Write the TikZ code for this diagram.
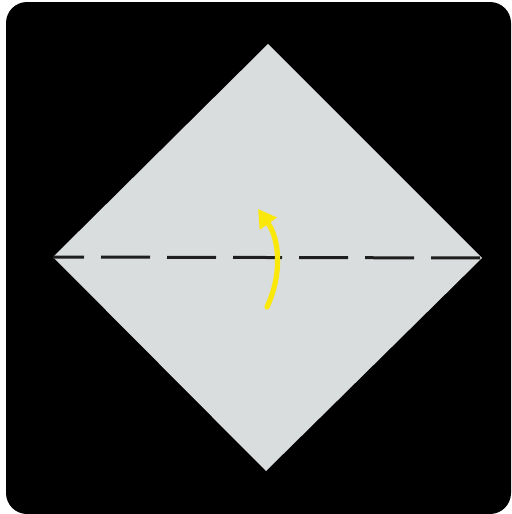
\documentclass[tikz,border=0pt]{standalone}
\usetikzlibrary{arrows.meta}

\definecolor{paper}{RGB}{218,221,221}
\definecolor{foldarrow}{RGB}{250,232,10}
\definecolor{creaseline}{RGB}{30,30,30}

\begin{document}
\begin{tikzpicture}[
    x=0.5pt, y=-0.5pt,
    frame/.style={fill=black, rounded corners=10.5pt},
    sheet/.style={fill=paper},
    crease/.style={draw=creaseline, line width=1.5pt, dash pattern=on 24.5pt off 8.5pt, dash phase=9pt},
    fold/.style={draw=foldarrow, line width=2.6pt, line cap=round, -{Triangle[length=9pt, width=10pt]}}
]
\useasboundingbox (0,0) rectangle (512,514);

\fill[frame] (6,2) rectangle (511,514);

\coordinate (top) at (268,44);
\coordinate (right) at (482,258);
\coordinate (bottom) at (266,471);
\coordinate (left) at (53,257);

\fill[sheet] (top) -- (right) -- (bottom) -- (left) -- cycle;

% valley fold
\draw[crease] (left) -- (right);

\coordinate (foldstart) at (267,307);
\coordinate (foldend) at (258,209);
\draw[fold] (foldstart) .. controls (282,275) and (280,240) .. (foldend);

\end{tikzpicture}
\end{document}
